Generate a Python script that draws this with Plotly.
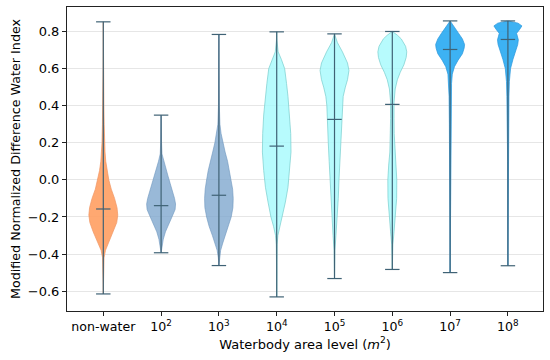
import plotly.graph_objects as go

categories = ["non-water", "10<sup>2</sup>", "10<sup>3</sup>", "10<sup>4</sup>",
              "10<sup>5</sup>", "10<sup>6</sup>", "10<sup>7</sup>", "10<sup>8</sup>"]

# extrema and medians
mins = [-0.615, -0.393, -0.462, -0.631, -0.532, -0.483, -0.500, -0.463]
maxs = [0.852, 0.349, 0.784, 0.798, 0.787, 0.800, 0.857, 0.857]
medians = [-0.157, -0.139, -0.083, 0.182, 0.326, 0.407, 0.703, 0.757]

# density profiles: y values and relative half-widths (0..1)
prof_nonwater_y = [-0.615, -0.5, -0.42, -0.38, -0.33, -0.28, -0.23, -0.19, -0.15, -0.1, -0.05, 0.0, 0.05, 0.1, 0.15, 0.2, 0.3, 0.4, 0.5, 0.6, 0.7, 0.852]
prof_nonwater_w = [0.0, 0.02, 0.05, 0.15, 0.4, 0.7, 0.93, 1.0, 0.95, 0.78, 0.55, 0.38, 0.26, 0.17, 0.12, 0.09, 0.06, 0.04, 0.02, 0.015, 0.01, 0.0]

prof_1e2_y = [-0.393, -0.36, -0.32, -0.28, -0.24, -0.2, -0.16, -0.13, -0.1, -0.06, -0.02, 0.02, 0.06, 0.1, 0.14, 0.2, 0.349]
prof_1e2_w = [0.0, 0.05, 0.15, 0.3, 0.5, 0.75, 0.97, 1.0, 0.93, 0.8, 0.63, 0.48, 0.33, 0.18, 0.06, 0.03, 0.0]

prof_1e3_y = [-0.462, -0.42, -0.38, -0.34, -0.3, -0.25, -0.2, -0.15, -0.1, -0.05, 0.0, 0.05, 0.1, 0.15, 0.2, 0.25, 0.3, 0.4, 0.6, 0.784]
prof_1e3_w = [0.0, 0.04, 0.12, 0.27, 0.45, 0.68, 0.85, 0.97, 0.99, 0.95, 0.85, 0.74, 0.6, 0.43, 0.28, 0.15, 0.07, 0.03, 0.01, 0.0]

prof_1e4_y = [-0.631, -0.5, -0.4, -0.35, -0.3, -0.25, -0.2, -0.12, -0.04, 0.05, 0.15, 0.25, 0.35, 0.45, 0.52, 0.6, 0.65, 0.69, 0.75, 0.798]
prof_1e4_w = [0.0, 0.005, 0.01, 0.03, 0.08, 0.22, 0.4, 0.6, 0.78, 0.9, 0.99, 0.97, 0.9, 0.78, 0.68, 0.55, 0.32, 0.1, 0.02, 0.0]

prof_1e5_y = [-0.532, -0.45, -0.38, -0.3, -0.2, -0.1, 0.0, 0.1, 0.2, 0.3, 0.4, 0.45, 0.5, 0.54, 0.59, 0.63, 0.69, 0.74, 0.787]
prof_1e5_w = [0.0, 0.01, 0.03, 0.1, 0.2, 0.26, 0.31, 0.37, 0.43, 0.5, 0.53, 0.6, 0.75, 0.9, 1.0, 0.9, 0.55, 0.2, 0.0]

prof_1e6_y = [-0.483, -0.4, -0.35, -0.28, -0.2, -0.1, 0.0, 0.08, 0.15, 0.25, 0.33, 0.42, 0.49, 0.54, 0.58, 0.62, 0.66, 0.69, 0.72, 0.76, 0.78, 0.8]
prof_1e6_w = [0.0, 0.01, 0.04, 0.12, 0.22, 0.3, 0.31, 0.25, 0.17, 0.13, 0.12, 0.12, 0.2, 0.35, 0.55, 0.8, 0.96, 1.0, 0.92, 0.62, 0.35, 0.0]

prof_1e7_y = [-0.5, -0.3, -0.1, 0.1, 0.3, 0.45, 0.52, 0.57, 0.61, 0.645, 0.68, 0.71, 0.73, 0.76, 0.79, 0.82, 0.84, 0.857]
prof_1e7_w = [0.0, 0.01, 0.02, 0.03, 0.05, 0.07, 0.1, 0.15, 0.3, 0.55, 0.85, 0.97, 1.0, 0.85, 0.6, 0.35, 0.15, 0.0]

prof_1e8_y = [-0.463, -0.3, -0.1, 0.1, 0.3, 0.45, 0.53, 0.6, 0.65, 0.7, 0.73, 0.755, 0.775, 0.79, 0.81, 0.83, 0.845, 0.857]
prof_1e8_w = [0.0, 0.01, 0.015, 0.02, 0.04, 0.07, 0.1, 0.18, 0.35, 0.55, 0.68, 0.72, 0.65, 0.6, 0.8, 0.97, 0.7, 0.0]

profiles = [
    (prof_nonwater_y, prof_nonwater_w), (prof_1e2_y, prof_1e2_w), (prof_1e3_y, prof_1e3_w),
    (prof_1e4_y, prof_1e4_w), (prof_1e5_y, prof_1e5_w), (prof_1e6_y, prof_1e6_w),
    (prof_1e7_y, prof_1e7_w), (prof_1e8_y, prof_1e8_w),
]

fill_colors = ["rgba(255,158,98,0.9)", "rgba(128,168,206,0.8)", "rgba(128,168,206,0.8)",
               "rgba(165,250,252,0.8)", "rgba(165,250,252,0.8)", "rgba(165,250,252,0.8)",
               "rgba(40,170,242,0.9)", "rgba(40,170,242,0.9)"]
edge_colors = ["rgba(240,150,100,0.7)", "rgba(110,150,190,0.6)", "rgba(110,150,190,0.6)",
               "rgba(120,205,205,0.7)", "rgba(120,205,205,0.7)", "rgba(120,205,205,0.7)",
               "rgba(40,150,220,0.7)", "rgba(40,150,220,0.7)"]
line_color = "#3f6275"

HALF = 0.25   # max half-width of each violin
CAP = 0.125   # half-length of extrema / median bars

fig = go.Figure()

for i, (py, pw) in enumerate(profiles):
    xs = [i + HALF * w for w in pw] + [i - HALF * w for w in reversed(pw)]
    ys = list(py) + list(reversed(py))
    fig.add_trace(go.Scatter(x=xs, y=ys, mode="lines", fill="toself",
                             fillcolor=fill_colors[i],
                             line=dict(color=edge_colors[i], width=1),
                             hoverinfo="skip", showlegend=False))

lx, ly = [], []
for i in range(len(categories)):
    lx += [i, i, None]
    ly += [mins[i], maxs[i], None]
    for v in (mins[i], maxs[i], medians[i]):
        lx += [i - CAP, i + CAP, None]
        ly += [v, v, None]
fig.add_trace(go.Scatter(x=lx, y=ly, mode="lines", line=dict(color=line_color, width=1.2),
                         hoverinfo="skip", showlegend=False))

ytick_vals = [-0.6, -0.4, -0.2, 0.0, 0.2, 0.4, 0.6, 0.8]
ytick_text = ["\u22120.6", "\u22120.4", "\u22120.2", "0.0", "0.2", "0.4", "0.6", "0.8"]

fig.update_layout(
    width=550, height=360,
    margin=dict(l=67, r=7, t=7, b=49),
    paper_bgcolor="white", plot_bgcolor="white",
    font=dict(family="DejaVu Sans", size=13, color="black"),
    xaxis=dict(range=[-0.628, 7.607], tickvals=list(range(len(categories))), ticktext=categories,
               automargin=False, tickfont=dict(size=12.6),
               showgrid=False, zeroline=False, showline=True, mirror=True, linecolor="#222",
               linewidth=1, ticks="outside", ticklen=4, tickcolor="#222",
               title=dict(text="Waterbody area level (<i>m</i><sup>2</sup>)", standoff=6,
                          font=dict(size=13))),
    yaxis=dict(range=[-0.707, 0.932], tickvals=ytick_vals, ticktext=ytick_text,
               automargin=False, tickfont=dict(size=13),
               showgrid=True, gridcolor="#e6e6e6", gridwidth=1, zeroline=False,
               showline=True, mirror=True, linecolor="#222", linewidth=1,
               ticks="outside", ticklen=4, tickcolor="#222",
               title=dict(text="Modified Normalized Difference Water Index", standoff=4,
                          font=dict(size=12.7))),
)

fig.write_html("out.html", config={"displayModeBar": False},
               post_script="document.body.style.margin='0';")
